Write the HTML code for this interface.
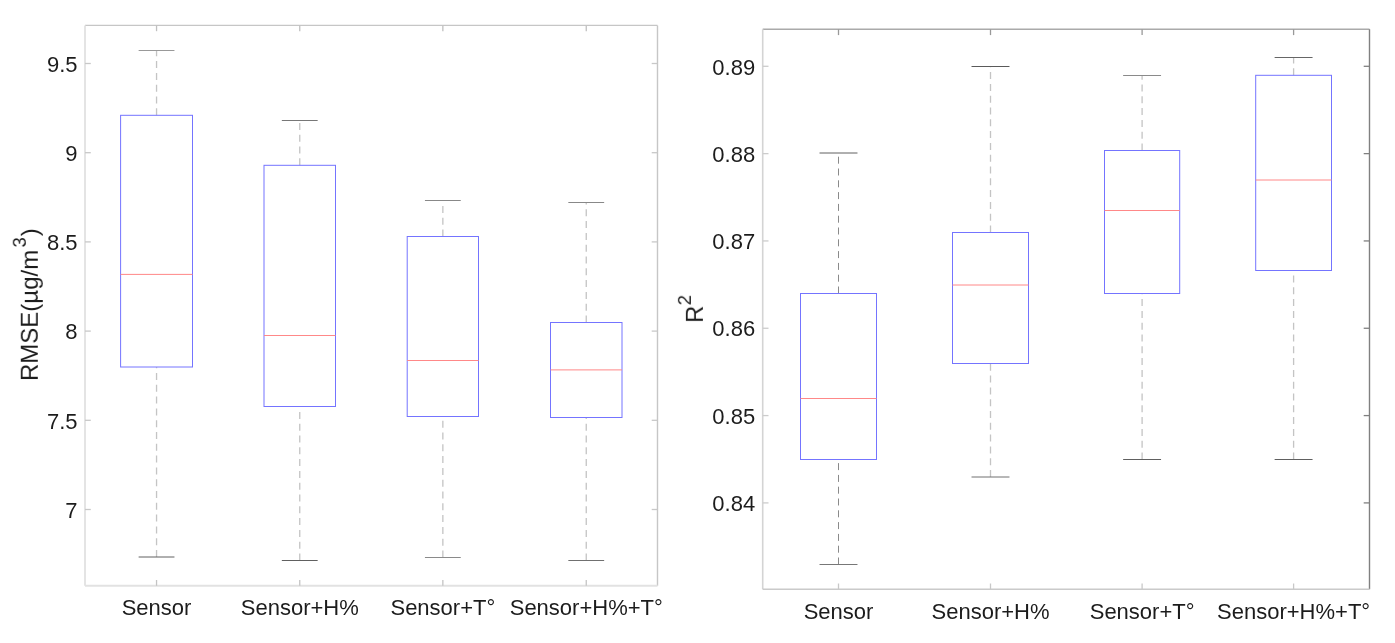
<!DOCTYPE html>
<html><head><meta charset="utf-8"><style>
html,body{margin:0;padding:0;background:#fff;}
body{width:1395px;height:643px;overflow:hidden;}
svg{display:block;font-family:"Liberation Sans",sans-serif;font-size:22px;}
</style></head><body>
<svg width="1395" height="643" viewBox="0 0 1395 643">
<defs><filter id="g" x="0" y="0" width="100%" height="100%" color-interpolation-filters="sRGB"><feColorMatrix type="saturate" values="0"/></filter></defs>
<rect width="1395" height="643" fill="#fff"/>
<line x1="85.0" y1="25.4" x2="657.5" y2="25.4" stroke="#c6c6c6" stroke-width="1.4"/>
<line x1="657.5" y1="25.4" x2="657.5" y2="585.8" stroke="#c6c6c6" stroke-width="1.4"/>
<line x1="85.0" y1="25.4" x2="85.0" y2="585.8" stroke="#e4e4e4" stroke-width="2"/>
<line x1="85.0" y1="585.8" x2="657.5" y2="585.8" stroke="#e2e2e2" stroke-width="2"/>
<line x1="85.0" y1="509.50" x2="90.8" y2="509.50" stroke="#c8c8c8" stroke-width="1.3"/>
<line x1="651.7" y1="509.50" x2="657.5" y2="509.50" stroke="#c8c8c8" stroke-width="1.3"/>
<line x1="85.0" y1="420.30" x2="90.8" y2="420.30" stroke="#c8c8c8" stroke-width="1.3"/>
<line x1="651.7" y1="420.30" x2="657.5" y2="420.30" stroke="#c8c8c8" stroke-width="1.3"/>
<line x1="85.0" y1="331.10" x2="90.8" y2="331.10" stroke="#c8c8c8" stroke-width="1.3"/>
<line x1="651.7" y1="331.10" x2="657.5" y2="331.10" stroke="#c8c8c8" stroke-width="1.3"/>
<line x1="85.0" y1="241.90" x2="90.8" y2="241.90" stroke="#c8c8c8" stroke-width="1.3"/>
<line x1="651.7" y1="241.90" x2="657.5" y2="241.90" stroke="#c8c8c8" stroke-width="1.3"/>
<line x1="85.0" y1="152.70" x2="90.8" y2="152.70" stroke="#c8c8c8" stroke-width="1.3"/>
<line x1="651.7" y1="152.70" x2="657.5" y2="152.70" stroke="#c8c8c8" stroke-width="1.3"/>
<line x1="85.0" y1="63.50" x2="90.8" y2="63.50" stroke="#c8c8c8" stroke-width="1.3"/>
<line x1="651.7" y1="63.50" x2="657.5" y2="63.50" stroke="#c8c8c8" stroke-width="1.3"/>
<line x1="156.55" y1="25.4" x2="156.55" y2="31.2" stroke="#c0c0c0" stroke-width="1.3"/>
<line x1="156.55" y1="580.0" x2="156.55" y2="585.8" stroke="#c4c4c4" stroke-width="1.3"/>
<line x1="156.55" y1="115.3" x2="156.55" y2="50.5" stroke="#c4c4c4" stroke-width="1.3" stroke-dasharray="7 4.8"/>
<line x1="156.55" y1="557.0" x2="156.55" y2="367.0" stroke="#c4c4c4" stroke-width="1.3" stroke-dasharray="7 4.8"/>
<line x1="138.64" y1="50.5" x2="174.46" y2="50.5" stroke="#999999" stroke-width="1"/>
<line x1="138.64" y1="557.0" x2="174.46" y2="557.0" stroke="#606060" stroke-width="1"/>
<rect x="120.60" y="115.3" width="71.90" height="251.70" fill="none" stroke="#7474ff" stroke-width="1"/>
<line x1="120.60" y1="274.4" x2="192.50" y2="274.4" stroke="#ff8888" stroke-width="1"/>
<line x1="299.75" y1="25.4" x2="299.75" y2="31.2" stroke="#c0c0c0" stroke-width="1.3"/>
<line x1="299.75" y1="580.0" x2="299.75" y2="585.8" stroke="#c4c4c4" stroke-width="1.3"/>
<line x1="299.75" y1="165.3" x2="299.75" y2="120.5" stroke="#c4c4c4" stroke-width="1.3" stroke-dasharray="7 4.8"/>
<line x1="299.75" y1="560.5" x2="299.75" y2="406.5" stroke="#c4c4c4" stroke-width="1.3" stroke-dasharray="7 4.8"/>
<line x1="281.84" y1="120.5" x2="317.66" y2="120.5" stroke="#777777" stroke-width="1"/>
<line x1="281.84" y1="560.5" x2="317.66" y2="560.5" stroke="#606060" stroke-width="1"/>
<rect x="264.00" y="165.3" width="71.50" height="241.20" fill="none" stroke="#7474ff" stroke-width="1"/>
<line x1="264.00" y1="335.5" x2="335.50" y2="335.5" stroke="#ff8888" stroke-width="1"/>
<line x1="442.85" y1="25.4" x2="442.85" y2="31.2" stroke="#c0c0c0" stroke-width="1.3"/>
<line x1="442.85" y1="580.0" x2="442.85" y2="585.8" stroke="#c4c4c4" stroke-width="1.3"/>
<line x1="442.85" y1="236.5" x2="442.85" y2="200.5" stroke="#c4c4c4" stroke-width="1.3" stroke-dasharray="7 4.8"/>
<line x1="442.85" y1="557.5" x2="442.85" y2="416.5" stroke="#c4c4c4" stroke-width="1.3" stroke-dasharray="7 4.8"/>
<line x1="424.94" y1="200.5" x2="460.76" y2="200.5" stroke="#888888" stroke-width="1"/>
<line x1="424.94" y1="557.5" x2="460.76" y2="557.5" stroke="#8a8a8a" stroke-width="1"/>
<rect x="407.20" y="236.5" width="71.30" height="180.00" fill="none" stroke="#7474ff" stroke-width="1"/>
<line x1="407.20" y1="360.5" x2="478.50" y2="360.5" stroke="#ff8888" stroke-width="1"/>
<line x1="586.25" y1="25.4" x2="586.25" y2="31.2" stroke="#c0c0c0" stroke-width="1.3"/>
<line x1="586.25" y1="580.0" x2="586.25" y2="585.8" stroke="#c4c4c4" stroke-width="1.3"/>
<line x1="586.25" y1="322.5" x2="586.25" y2="202.5" stroke="#c4c4c4" stroke-width="1.3" stroke-dasharray="7 4.8"/>
<line x1="586.25" y1="560.5" x2="586.25" y2="417.5" stroke="#c4c4c4" stroke-width="1.3" stroke-dasharray="7 4.8"/>
<line x1="568.34" y1="202.5" x2="604.16" y2="202.5" stroke="#888888" stroke-width="1"/>
<line x1="568.34" y1="560.5" x2="604.16" y2="560.5" stroke="#707070" stroke-width="1"/>
<rect x="550.50" y="322.5" width="71.50" height="95.00" fill="none" stroke="#7474ff" stroke-width="1"/>
<line x1="550.50" y1="369.9" x2="622.00" y2="369.9" stroke="#ff8888" stroke-width="1"/>
<line x1="762.7" y1="29.3" x2="1369.5" y2="29.3" stroke="#aaaaaa" stroke-width="1.4"/>
<line x1="1369.5" y1="29.3" x2="1369.5" y2="589.3" stroke="#808080" stroke-width="1.4"/>
<line x1="762.7" y1="29.3" x2="762.7" y2="589.3" stroke="#d4d4d4" stroke-width="1.6"/>
<line x1="762.7" y1="589.3" x2="1369.5" y2="589.3" stroke="#cacaca" stroke-width="1.6"/>
<line x1="762.7" y1="502.90" x2="768.5" y2="502.90" stroke="#cccccc" stroke-width="1.3"/>
<line x1="1363.7" y1="502.90" x2="1369.5" y2="502.90" stroke="#808080" stroke-width="1.3"/>
<line x1="762.7" y1="415.58" x2="768.5" y2="415.58" stroke="#cccccc" stroke-width="1.3"/>
<line x1="1363.7" y1="415.58" x2="1369.5" y2="415.58" stroke="#808080" stroke-width="1.3"/>
<line x1="762.7" y1="328.26" x2="768.5" y2="328.26" stroke="#cccccc" stroke-width="1.3"/>
<line x1="1363.7" y1="328.26" x2="1369.5" y2="328.26" stroke="#808080" stroke-width="1.3"/>
<line x1="762.7" y1="240.94" x2="768.5" y2="240.94" stroke="#cccccc" stroke-width="1.3"/>
<line x1="1363.7" y1="240.94" x2="1369.5" y2="240.94" stroke="#808080" stroke-width="1.3"/>
<line x1="762.7" y1="153.62" x2="768.5" y2="153.62" stroke="#cccccc" stroke-width="1.3"/>
<line x1="1363.7" y1="153.62" x2="1369.5" y2="153.62" stroke="#808080" stroke-width="1.3"/>
<line x1="762.7" y1="66.30" x2="768.5" y2="66.30" stroke="#cccccc" stroke-width="1.3"/>
<line x1="1363.7" y1="66.30" x2="1369.5" y2="66.30" stroke="#808080" stroke-width="1.3"/>
<line x1="838.50" y1="29.3" x2="838.50" y2="35.1" stroke="#999999" stroke-width="1.3"/>
<line x1="838.50" y1="583.5" x2="838.50" y2="589.3" stroke="#c8c8c8" stroke-width="1.3"/>
<line x1="838.50" y1="293.5" x2="838.50" y2="153.0" stroke="#8a8a8a" stroke-width="1" stroke-dasharray="7 4.8"/>
<line x1="838.50" y1="564.5" x2="838.50" y2="459.5" stroke="#8a8a8a" stroke-width="1" stroke-dasharray="7 4.8"/>
<line x1="819.53" y1="153.0" x2="857.47" y2="153.0" stroke="#606060" stroke-width="1"/>
<line x1="819.53" y1="564.5" x2="857.47" y2="564.5" stroke="#777777" stroke-width="1"/>
<rect x="800.50" y="293.5" width="76.00" height="166.00" fill="none" stroke="#7474ff" stroke-width="1"/>
<line x1="800.50" y1="398.5" x2="876.50" y2="398.5" stroke="#ff8888" stroke-width="1"/>
<line x1="990.50" y1="29.3" x2="990.50" y2="35.1" stroke="#999999" stroke-width="1.3"/>
<line x1="990.50" y1="583.5" x2="990.50" y2="589.3" stroke="#c8c8c8" stroke-width="1.3"/>
<line x1="990.50" y1="232.5" x2="990.50" y2="66.5" stroke="#c4c4c4" stroke-width="1.3" stroke-dasharray="7 4.8"/>
<line x1="990.50" y1="477.0" x2="990.50" y2="363.5" stroke="#c4c4c4" stroke-width="1.3" stroke-dasharray="7 4.8"/>
<line x1="971.53" y1="66.5" x2="1009.47" y2="66.5" stroke="#5a5a5a" stroke-width="1"/>
<line x1="971.53" y1="477.0" x2="1009.47" y2="477.0" stroke="#707070" stroke-width="1"/>
<rect x="952.50" y="232.5" width="76.00" height="131.00" fill="none" stroke="#7474ff" stroke-width="1"/>
<line x1="952.50" y1="285.0" x2="1028.50" y2="285.0" stroke="#ff8888" stroke-width="1"/>
<line x1="1142.10" y1="29.3" x2="1142.10" y2="35.1" stroke="#999999" stroke-width="1.3"/>
<line x1="1142.10" y1="583.5" x2="1142.10" y2="589.3" stroke="#c8c8c8" stroke-width="1.3"/>
<line x1="1142.10" y1="150.5" x2="1142.10" y2="75.5" stroke="#c4c4c4" stroke-width="1.3" stroke-dasharray="7 4.8"/>
<line x1="1142.10" y1="459.5" x2="1142.10" y2="293.5" stroke="#c4c4c4" stroke-width="1.3" stroke-dasharray="7 4.8"/>
<line x1="1123.13" y1="75.5" x2="1161.06" y2="75.5" stroke="#8a8a8a" stroke-width="1"/>
<line x1="1123.13" y1="459.5" x2="1161.06" y2="459.5" stroke="#606060" stroke-width="1"/>
<rect x="1104.50" y="150.5" width="75.20" height="143.00" fill="none" stroke="#7474ff" stroke-width="1"/>
<line x1="1104.50" y1="210.5" x2="1179.70" y2="210.5" stroke="#ff8888" stroke-width="1"/>
<line x1="1293.60" y1="29.3" x2="1293.60" y2="35.1" stroke="#999999" stroke-width="1.3"/>
<line x1="1293.60" y1="583.5" x2="1293.60" y2="589.3" stroke="#c8c8c8" stroke-width="1.3"/>
<line x1="1293.60" y1="75.3" x2="1293.60" y2="57.5" stroke="#c4c4c4" stroke-width="1.3" stroke-dasharray="7 4.8"/>
<line x1="1293.60" y1="459.5" x2="1293.60" y2="270.5" stroke="#c4c4c4" stroke-width="1.3" stroke-dasharray="7 4.8"/>
<line x1="1274.63" y1="57.5" x2="1312.56" y2="57.5" stroke="#666666" stroke-width="1"/>
<line x1="1274.63" y1="459.5" x2="1312.56" y2="459.5" stroke="#606060" stroke-width="1"/>
<rect x="1255.70" y="75.3" width="75.80" height="195.20" fill="none" stroke="#7474ff" stroke-width="1"/>
<line x1="1255.70" y1="180.0" x2="1331.50" y2="180.0" stroke="#ff8888" stroke-width="1"/>
<g fill="#1c1c1c" filter="url(#g)">
<text transform="translate(77.50,517.70) scale(1,1.0)" text-anchor="end">7</text>
<text transform="translate(77.50,428.50) scale(1,1.0)" text-anchor="end">7.5</text>
<text transform="translate(77.50,339.30) scale(1,1.0)" text-anchor="end">8</text>
<text transform="translate(77.50,250.10) scale(1,1.0)" text-anchor="end">8.5</text>
<text transform="translate(77.50,160.90) scale(1,1.0)" text-anchor="end">9</text>
<text transform="translate(77.50,71.70) scale(1,1.0)" text-anchor="end">9.5</text>
<text transform="translate(156.55,615.0) scale(1,1.0)" text-anchor="middle">Sensor</text>
<text transform="translate(299.75,615.0) scale(1,1.0)" text-anchor="middle">Sensor+H%</text>
<text transform="translate(442.85,615.0) scale(1,1.0)" text-anchor="middle">Sensor+T°</text>
<text transform="translate(586.25,615.0) scale(1,1.0)" text-anchor="middle">Sensor+H%+T°</text>
<text transform="translate(755.20,511.10) scale(1,1.0)" text-anchor="end">0.84</text>
<text transform="translate(755.20,423.78) scale(1,1.0)" text-anchor="end">0.85</text>
<text transform="translate(755.20,336.46) scale(1,1.0)" text-anchor="end">0.86</text>
<text transform="translate(755.20,249.14) scale(1,1.0)" text-anchor="end">0.87</text>
<text transform="translate(755.20,161.82) scale(1,1.0)" text-anchor="end">0.88</text>
<text transform="translate(755.20,74.50) scale(1,1.0)" text-anchor="end">0.89</text>
<text transform="translate(838.50,618.6) scale(1,1.0)" text-anchor="middle">Sensor</text>
<text transform="translate(990.50,618.6) scale(1,1.0)" text-anchor="middle">Sensor+H%</text>
<text transform="translate(1142.10,618.6) scale(1,1.0)" text-anchor="middle">Sensor+T°</text>
<text transform="translate(1293.60,618.6) scale(1,1.0)" text-anchor="middle">Sensor+H%+T°</text>
<text transform="translate(37.8,381) rotate(-90)" font-size="24">RMSE(µg/m<tspan dx="2.3" dy="-12.2" font-size="18.5">3</tspan><tspan dx="1" dy="12.2">)</tspan></text>
<text transform="translate(702.9,322.8) rotate(-90)" font-size="23.7">R<tspan dx="0.3" dy="-12" font-size="18.5">2</tspan></text>
</g>
</svg>
</body></html>
